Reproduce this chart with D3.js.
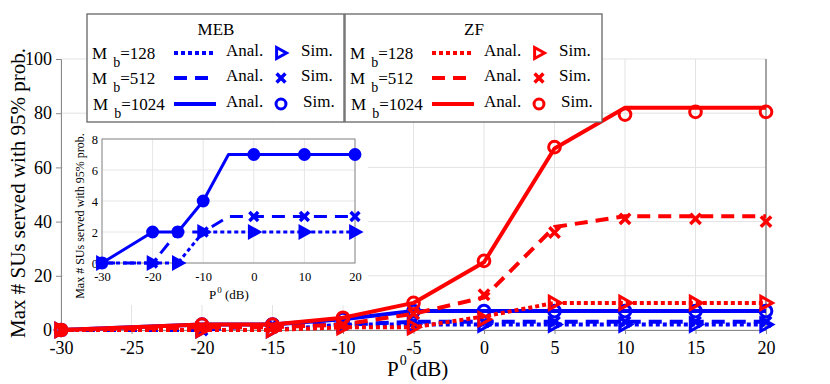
<!DOCTYPE html>
<html>
<head>
<meta charset="utf-8">
<script src="https://cdn.jsdelivr.net/npm/d3@7"></script>
<style>
	body { margin: 0; background: #fff; }
	text { font-family: "Liberation Serif", "Times New Roman", serif; fill: #000; }
</style>
</head>
<body>
<div id="chart"></div>
<script>
// P0 (dB) values
const xs = [-30, -20, -15, -10, -5, 0, 5, 10, 15, 20];
const insetSimX = [-30, -20, -15, -10, 0, 10, 20];
const xTicks = [-30, -25, -20, -15, -10, -5, 0, 5, 10, 15, 20];
const yTicks = [0, 20, 40, 60, 80, 100];
const insetXTicks = [-30, -20, -10, 0, 10, 20];
const insetYTicks = [0, 2, 4, 6, 8];

// MEB
const mebAnal128 = [0, 0, 0, 2, 2, 2, 2, 2, 2, 2];
const mebSim128 = [0, 0, 0, 2, 2, 2, 2, 2, 2, 2];
const mebAnal512 = [0, 0, 2, 2, 3, 3, 3, 3, 3, 3];
const mebSim512 = [0, 0, 2, 2, 3, 3, 3, 3, 3, 3];
const mebAnal1024 = [0, 2, 2, 4, 7, 7, 7, 7, 7, 7];
const mebSim1024 = [0, 2, 2, 4, 7, 7, 7, 7, 7, 7];

// ZF
const zfAnal128 = [0, 0, 0, 1, 1, 5, 10, 10, 10, 10];
const zfSim128 = [0, 0, 0, 1, 1, 4, 10, 10, 10, 10];
const zfAnal512 = [0, 1, 1, 2, 6, 12, 38, 42, 42, 42];
const zfSim512 = [0, 1, 1, 2, 6, 13, 36, 41, 41, 40];
const zfAnal1024 = [0, 2, 2, 4.5, 10, 25, 67, 82, 82, 82];
const zfSim1024 = [0, 2, 2, 4.5, 10, 25.5, 67.5, 79.5, 80.5, 80.5];

const labels = ["128", "512", "1024"];
const styles = [
	{ dash: "4,3", marker: "tri" },
	{ dash: "13,8", marker: "x" },
	{ dash: null, marker: "circle" }
];

const serif = "'Liberation Serif', 'Times New Roman', serif";
const W = 830, H = 384;
const svg = d3.select("#chart").append("svg")
	.attr("width", W)
	.attr("height", H);

// ---------- main axes ----------
const x = d3.scaleLinear().domain([-30, 20]).range([61, 766]);
const y = d3.scaleLinear().domain([0, 100]).range([330, 59]);

const grid = svg.append("g");
grid.selectAll(".vx").data(xTicks).enter().append("line")
	.attr("x1", d => x(d)).attr("x2", d => x(d))
	.attr("y1", y(0)).attr("y2", y(100))
	.attr("stroke", "#e3e3e3");
grid.selectAll(".hy").data(yTicks).enter().append("line")
	.attr("x1", x(-30)).attr("x2", x(20))
	.attr("y1", d => y(d)).attr("y2", d => y(d))
	.attr("stroke", "#e3e3e3");

svg.append("line")
	.attr("x1", x(20)).attr("x2", x(20))
	.attr("y1", y(0)).attr("y2", y(100))
	.attr("stroke", "#8a8a8a").attr("stroke-width", 1.5);

const xAxis = svg.append("g")
	.attr("transform", "translate(0," + y(0) + ")")
	.call(d3.axisBottom(x).tickValues(xTicks).tickSize(4).tickFormat(d => String(d)))
	.attr("font-family", serif);
xAxis.select(".domain").attr("stroke", "#8a8a8a");
xAxis.selectAll(".tick line").attr("stroke", "#8a8a8a");
xAxis.selectAll("text").attr("font-size", 18).attr("dy", "0.95em");

const yAxis = svg.append("g")
	.attr("transform", "translate(" + x(-30) + ",0)")
	.call(d3.axisLeft(y).tickValues(yTicks).tickSize(5).tickFormat(d => String(d)))
	.attr("font-family", serif);
yAxis.select(".domain").attr("stroke", "#8a8a8a");
yAxis.selectAll(".tick line").attr("stroke", "#8a8a8a");
yAxis.selectAll("text").attr("font-size", 18).attr("dx", "-0.05em");

svg.append("text")
	.attr("transform", "translate(25,193) rotate(-90)")
	.attr("text-anchor", "middle")
	.attr("font-size", 21)
	.text("Max # SUs served with 95% prob.");

let xl = svg.append("text")
	.attr("x", 387).attr("y", 376)
	.attr("font-size", 21);
xl.append("tspan").text("P");
xl.append("tspan").attr("font-size", 14).attr("dy", -11).attr("dx", 1).text("0");
xl.append("tspan").attr("dy", 11).attr("dx", 3).text("(dB)");

function drawMarker(g, type, cx, cy, color, size, filled) {
	if (type === "circle") {
		g.append("circle").attr("cx", cx).attr("cy", cy).attr("r", size * 0.45)
			.attr("fill", filled ? color : "none")
			.attr("stroke", color).attr("stroke-width", 3);
	} else if (type === "tri") {
		let s = size * 0.5;
		g.append("path")
			.attr("d", "M" + (cx - s * 0.8) + "," + (cy - s) + "L" + (cx + s) + "," + cy + "L" + (cx - s * 0.8) + "," + (cy + s) + "Z")
			.attr("fill", filled ? color : "none")
			.attr("stroke", color).attr("stroke-width", 3)
			.attr("stroke-linejoin", "miter");
	} else {
		let s = size * 0.4;
		g.append("path")
			.attr("d", "M" + (cx - s) + "," + (cy - s) + "L" + (cx + s) + "," + (cy + s) +
				"M" + (cx - s) + "," + (cy + s) + "L" + (cx + s) + "," + (cy - s))
			.attr("stroke", color).attr("stroke-width", 3.5);
	}
}

function drawSeries(g, sx, sy, anal, sim, st, color, simX, lw, msize, filled) {
	let line = d3.line()
		.x((d, i) => sx(xs[i]))
		.y(d => sy(d));
	g.append("path")
		.attr("d", line(anal))
		.attr("fill", "none")
		.attr("stroke", color)
		.attr("stroke-width", lw)
		.attr("stroke-dasharray", st.dash)
		.attr("stroke-linejoin", "round");
	xs.forEach(function (xv, i) {
		if (simX.indexOf(xv) >= 0) {
			drawMarker(g, st.marker, sx(xv), sy(sim[i]), color, msize, filled);
		}
	});
}

const mebAnal = [mebAnal128, mebAnal512, mebAnal1024];
const mebSim = [mebSim128, mebSim512, mebSim1024];
const zfAnal = [zfAnal128, zfAnal512, zfAnal1024];
const zfSim = [zfSim128, zfSim512, zfSim1024];

const main = svg.append("g");
[2, 1, 0].forEach(function (k) {
	drawSeries(main, x, y, mebAnal[k], mebSim[k], styles[k], "#0000ff", xs, 4, 13, false);
});
[2, 1, 0].forEach(function (k) {
	drawSeries(main, x, y, zfAnal[k], zfSim[k], styles[k], "#ff0000", xs, 4, 13, false);
});

// ---------- inset ----------
svg.append("rect")
	.attr("x", 63).attr("y", 123)
	.attr("width", 305).attr("height", 182)
	.attr("fill", "#fff");

const ix = d3.scaleLinear().domain([-30, 20]).range([102, 355]);
const iy = d3.scaleLinear().domain([0, 8]).range([263, 139]);
const inset = svg.append("g");

inset.selectAll(".ivx").data(insetXTicks).enter().append("line")
	.attr("x1", d => ix(d)).attr("x2", d => ix(d))
	.attr("y1", iy(0)).attr("y2", iy(8))
	.attr("stroke", "#e6e6e6");
inset.selectAll(".ihy").data(insetYTicks).enter().append("line")
	.attr("x1", ix(-30)).attr("x2", ix(20))
	.attr("y1", d => iy(d)).attr("y2", d => iy(d))
	.attr("stroke", "#e6e6e6");
inset.append("rect")
	.attr("x", ix(-30)).attr("y", iy(8))
	.attr("width", ix(20) - ix(-30)).attr("height", iy(0) - iy(8))
	.attr("fill", "none").attr("stroke", "#8a8a8a");

const ixAxis = inset.append("g")
	.attr("transform", "translate(0," + iy(0) + ")")
	.call(d3.axisBottom(ix).tickValues(insetXTicks).tickSize(0).tickPadding(9).tickFormat(d => String(d)))
	.attr("font-family", serif);
ixAxis.select(".domain").remove();
ixAxis.selectAll("text").attr("font-size", 12.5);

const iyAxis = inset.append("g")
	.attr("transform", "translate(" + ix(-30) + ",0)")
	.call(d3.axisLeft(iy).tickValues(insetYTicks).tickSize(0).tickPadding(4).tickFormat(d => String(d)))
	.attr("font-family", serif);
iyAxis.select(".domain").remove();
iyAxis.selectAll("text").attr("font-size", 12.5);

let ixl = inset.append("text")
	.attr("x", 209).attr("y", 299)
	.attr("font-size", 13);
ixl.append("tspan").text("P");
ixl.append("tspan").attr("font-size", 9).attr("dy", -6).attr("dx", 1).text("0");
ixl.append("tspan").attr("dy", 6).text(" (dB)");

inset.append("text")
	.attr("transform", "translate(84,216) rotate(-90)")
	.attr("text-anchor", "middle")
	.attr("font-size", 12)
	.text("Max # SUs served with 95% prob.");

[0, 1, 2].forEach(function (k) {
	drawSeries(inset, ix, iy, mebAnal[k], mebSim[k], styles[k], "#0000ff", insetSimX, 3, 11, true);
});

// ---------- legends ----------
const rowY = [53, 78, 104];
function legend(x0, title, color) {
	let g = svg.append("g");
	g.append("rect")
		.attr("x", x0).attr("y", 14)
		.attr("width", 257).attr("height", 108)
		.attr("fill", "#fff")
		.attr("stroke", "#666").attr("stroke-width", 1.3);
	g.append("text")
		.attr("x", x0 + 129).attr("y", 35)
		.attr("text-anchor", "middle")
		.attr("font-size", 17)
		.text(title);
	labels.forEach(function (lab, k) {
		let ry = rowY[k];
		let t = g.append("text")
			.attr("x", x0 + 5 + (k === 2 ? 1 : 0)).attr("y", ry + 6)
			.attr("font-size", 17);
		t.append("tspan").text("M");
		t.append("tspan").attr("font-size", 14).attr("dy", 8).attr("dx", 6).text("b");
		t.append("tspan").attr("dy", -8).text("=" + lab);
		g.append("line")
			.attr("x1", x0 + 87).attr("x2", x0 + 129)
			.attr("y1", ry).attr("y2", ry)
			.attr("stroke", color).attr("stroke-width", 4)
			.attr("stroke-dasharray", styles[k].dash);
		g.append("text")
			.attr("x", x0 + 139).attr("y", ry + 3)
			.attr("font-size", 17)
			.text("Anal.");
		drawMarker(g, styles[k].marker, x0 + 194, ry, color, 11, false);
		g.append("text")
			.attr("x", x0 + 214 + (k === 2 ? 2 : 0)).attr("y", ry + 3)
			.attr("font-size", 17)
			.text("Sim.");
	});
}
legend(87, "MEB", "#0000ff");
legend(345, "ZF", "#ff0000");
</script>
</body>
</html>
